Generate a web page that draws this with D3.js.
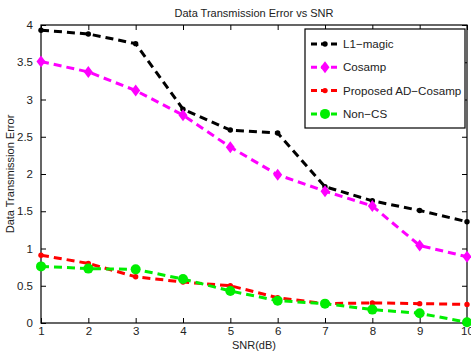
<!DOCTYPE html>
<html lang="en">
<head>
<meta charset="UTF-8">
<title>Data Transmission Error vs SNR</title>
<script src="https://d3js.org/d3.v7.min.js"></script>
<style>
  body { margin: 0; background: #fff; }
  svg { display: block; font-family: "Liberation Sans", Arial, sans-serif; }
  text { fill: #222; }
</style>
</head>
<body>
<div id="chart"></div>
<script>
// values
const snr = [1, 2, 3, 4, 5, 6, 7, 8, 9, 10];
const l1magic  = [3.93, 3.88, 3.75, 2.87, 2.59, 2.55, 1.83, 1.64, 1.51, 1.36];
const cosamp   = [3.51, 3.37, 3.12, 2.79, 2.36, 1.99, 1.77, 1.57, 1.04, 0.89];
const proposed = [0.91, 0.80, 0.62, 0.55, 0.50, 0.34, 0.26, 0.27, 0.26, 0.25];
const nonCS    = [0.76, 0.73, 0.72, 0.59, 0.43, 0.30, 0.26, 0.18, 0.13, 0.01];
const yTicks = [0, 0.5, 1, 1.5, 2, 2.5, 3, 3.5, 4];

const series = [
  { name: "L1\u2212magic", values: l1magic, color: "#000000", marker: "dot" },
  { name: "Cosamp", values: cosamp, color: "#ff00ff", marker: "diamond" },
  { name: "Proposed AD\u2212Cosamp", values: proposed, color: "#ff0000", marker: "dot" },
  { name: "Non\u2212CS", values: nonCS, color: "#00ee00", marker: "circle" }
];

const width = 471, height = 351;
const margin = { top: 25, right: 4, bottom: 28, left: 41 };

const svg = d3.select("#chart").append("svg")
  .attr("width", width).attr("height", height);

const x = d3.scaleLinear().domain([1, 10]).range([margin.left, width - margin.right]);
const y = d3.scaleLinear().domain([0, 4]).range([height - margin.bottom, margin.top]);

// axes, ticks pointing inward
const fs = 11.5;
svg.append("g")
  .attr("transform", `translate(0,${y(0)})`)
  .call(d3.axisBottom(x).tickValues(snr).tickSize(-5).tickPadding(4).tickFormat(d3.format("d")))
  .call(g => g.select(".domain").remove())
  .call(g => g.selectAll("text").attr("font-size", fs).attr("font-family", "Liberation Sans, Arial, sans-serif"));
svg.append("g")
  .attr("transform", `translate(0,${y(4)})`)
  .call(d3.axisTop(x).tickValues(snr).tickSize(-5).tickFormat(""))
  .call(g => g.select(".domain").remove());
svg.append("g")
  .attr("transform", `translate(${x(1)},0)`)
  .call(d3.axisLeft(y).tickValues(yTicks).tickSize(-5).tickPadding(8).tickFormat(d3.format("~g")))
  .call(g => g.select(".domain").remove())
  .call(g => g.selectAll("text").attr("font-size", fs).attr("font-family", "Liberation Sans, Arial, sans-serif"));
svg.append("g")
  .attr("transform", `translate(${x(10)},0)`)
  .call(d3.axisRight(y).tickValues(yTicks).tickSize(-5).tickFormat(""))
  .call(g => g.select(".domain").remove());

svg.append("rect")
  .attr("x", x(1)).attr("y", y(4))
  .attr("width", x(10) - x(1)).attr("height", y(0) - y(4))
  .attr("fill", "none").attr("stroke", "#000").attr("stroke-width", 1.2);

// titles
svg.append("text").attr("x", (x(1) + x(10)) / 2).attr("y", 17)
  .attr("text-anchor", "middle").attr("font-size", 11).text("Data Transmission Error vs SNR");
svg.append("text").attr("x", (x(1) + x(10)) / 2).attr("y", 349)
  .attr("text-anchor", "middle").attr("font-size", 11).text("SNR(dB)");
svg.append("text")
  .attr("transform", `translate(14,${(y(0) + y(4)) / 2}) rotate(-90)`)
  .attr("text-anchor", "middle").attr("font-size", 11).text("Data Transmission Error");

function drawMarker(g, type, color, cx, cy) {
  if (type === "dot") {
    g.append("circle").attr("cx", cx).attr("cy", cy).attr("r", 2.7).attr("fill", color);
  } else if (type === "circle") {
    g.append("circle").attr("cx", cx).attr("cy", cy).attr("r", 5).attr("fill", color);
  } else {
    g.append("path")
      .attr("d", `M${cx},${cy - 6}L${cx + 4.5},${cy}L${cx},${cy + 6}L${cx - 4.5},${cy}Z`)
      .attr("fill", color);
  }
}

const line = d3.line().x((d, i) => x(snr[i])).y(d => y(d));

series.forEach(s => {
  const g = svg.append("g");
  g.append("path")
    .attr("d", line(s.values))
    .attr("fill", "none").attr("stroke", s.color)
    .attr("stroke-width", 3).attr("stroke-dasharray", "8,5");
  s.values.forEach((v, i) => drawMarker(g, s.marker, s.color, x(snr[i]), y(v)));
});

// legend
const lg = svg.append("g");
lg.append("rect").attr("x", 305).attr("y", 29).attr("width", 160).attr("height", 99)
  .attr("fill", "#fff").attr("stroke", "#000").attr("stroke-width", 1.2);
series.forEach((s, i) => {
  const cy = 44 + i * 23.3;
  lg.append("line").attr("x1", 311).attr("x2", 339).attr("y1", cy).attr("y2", cy)
    .attr("stroke", s.color).attr("stroke-width", 3).attr("stroke-dasharray", "6,4");
  drawMarker(lg, s.marker, s.color, 325, cy);
  lg.append("text").attr("x", 343).attr("y", cy + 4).attr("font-size", 11.6).text(s.name);
});
</script>
</body>
</html>
